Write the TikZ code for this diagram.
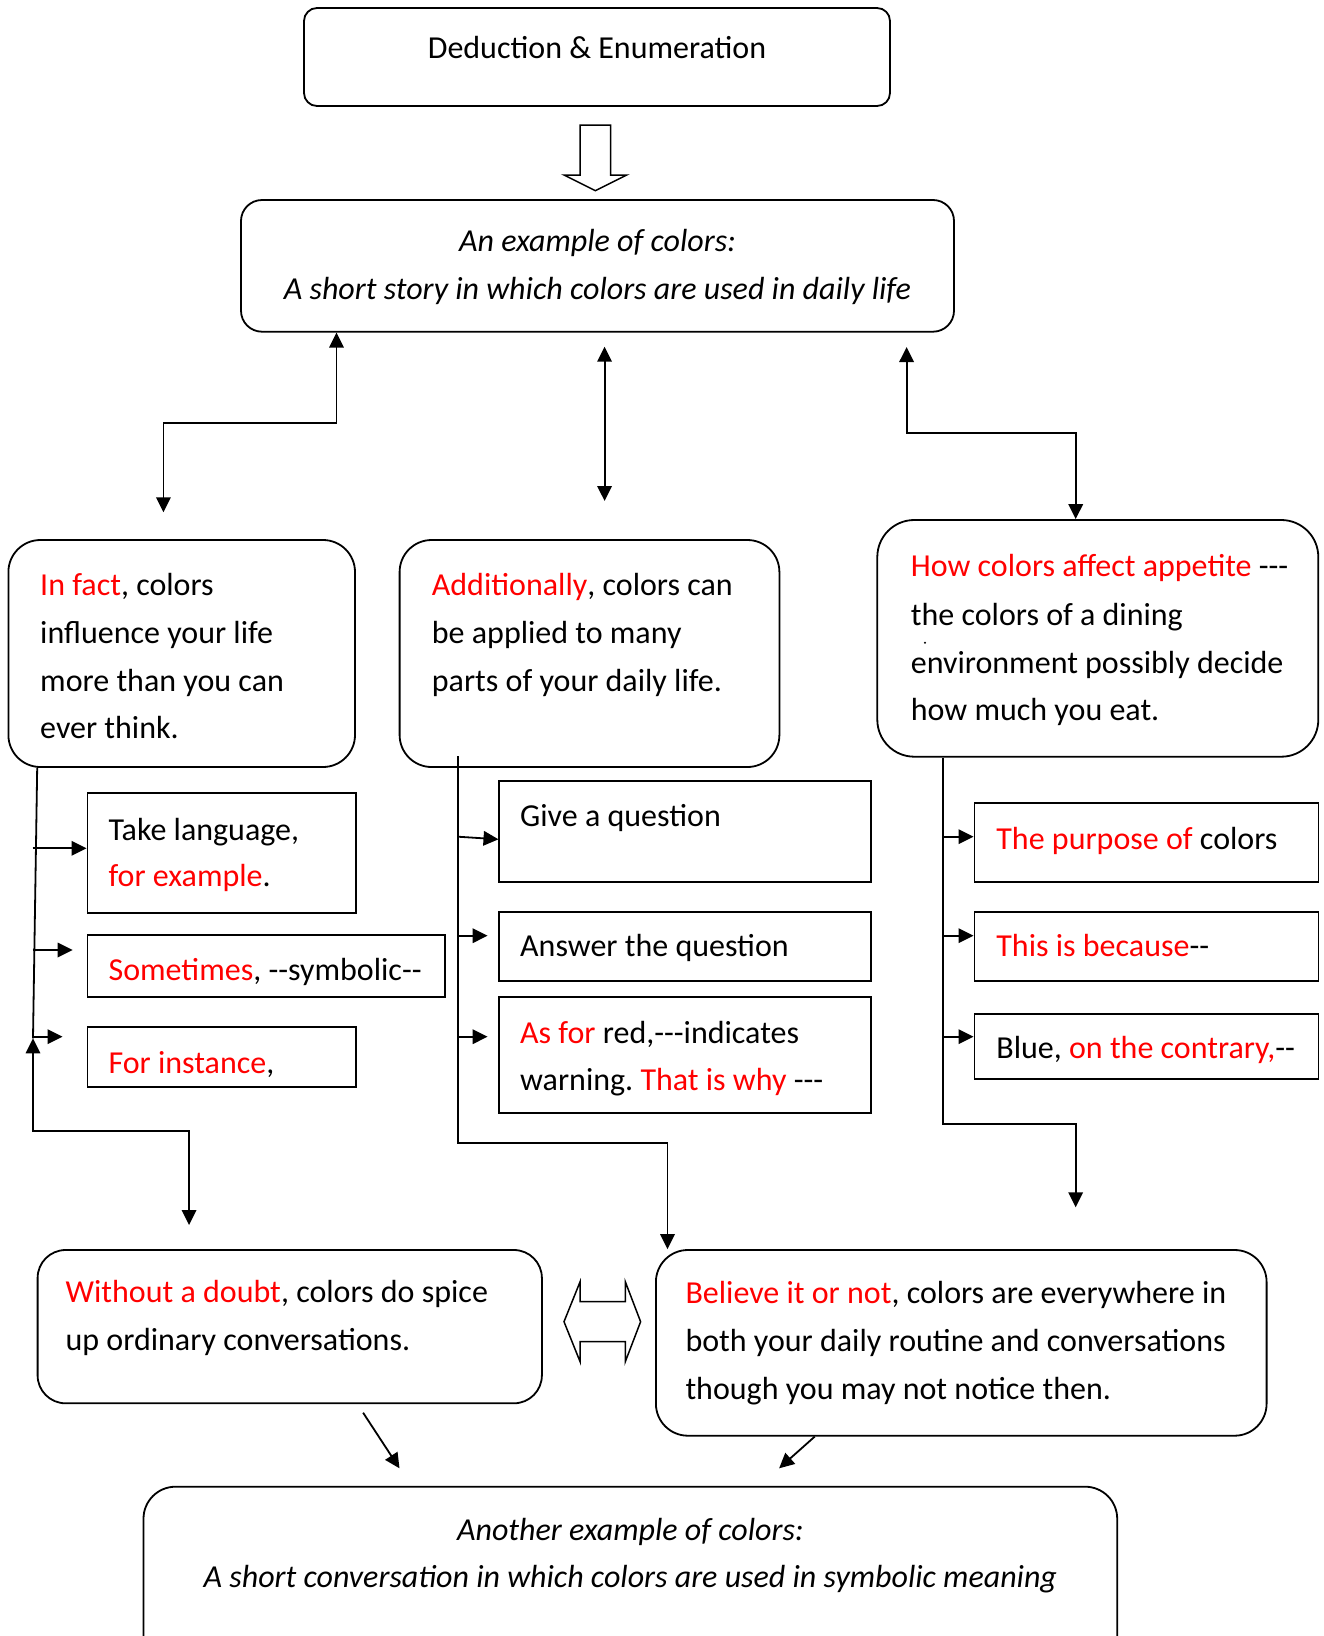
\documentclass[tikz,border=0pt]{standalone}
\usepackage{fontspec}
\setmainfont{Carlito}[Ligatures=TeXOff]
\usetikzlibrary{arrows.meta}
\definecolor{rd}{RGB}{255,0,0}
\frenchspacing
\begin{document}
\begin{tikzpicture}[x=1pt,y=-1pt,line width=1.8pt,
  txt/.style={inner sep=0pt,anchor=base west,font=\fontsize{32}{40}\selectfont},
  ctxt/.style={inner sep=0pt,anchor=base,font=\fontsize{32}{40}\selectfont},
  itxt/.style={inner sep=0pt,anchor=base,font=\fontsize{32}{40}\selectfont\itshape},
  rbox/.style={draw,rounded corners=#1,inner sep=0pt},
  sbox/.style={draw,inner sep=0pt},
  con/.style={-{Triangle[length=15pt,width=14.5pt]}},
  dcon/.style={{Triangle[length=15pt,width=14.5pt]}-{Triangle[length=15pt,width=14.5pt]}},
  hollow/.style={draw,line width=1.5pt,line join=miter,fill=white},
]
\useasboundingbox (0,0) rectangle (1324,1636);
\clip (0,0) rectangle (1324,1636);

% ---------- boxes ----------
\node[rbox=13pt,minimum width=586pt,minimum height=98pt] (top) at (597,57) {};
\node[rbox=21pt,minimum width=713pt,minimum height=131.7pt] (box2) at (597.5,265.85) {};
\node[rbox=32pt,minimum width=346.6pt,minimum height=227pt] (infact) at (181.7,653.5) {};
\node[rbox=32pt,minimum width=379.8pt,minimum height=227pt] (addl) at (589.5,653.5) {};
\node[rbox=37pt,minimum width=441pt,minimum height=236.7pt] (how) at (1097.8,638.35) {};
\node[sbox,minimum width=268.5pt,minimum height=119.4pt] (take) at (221.65,853) {};
\node[sbox,minimum width=357.2pt,minimum height=61.7pt] (sometimes) at (266,965.85) {};
\node[sbox,minimum width=268.5pt,minimum height=60pt] (forinst) at (221.65,1056.7) {};
\node[sbox,minimum width=372pt,minimum height=101.3pt] (giveq) at (685,831.65) {};
\node[sbox,minimum width=372pt,minimum height=68.4pt] (answer) at (685,946.5) {};
\node[sbox,minimum width=372pt,minimum height=116pt] (asfor) at (685,1054.7) {};
\node[sbox,minimum width=344.1pt,minimum height=79pt] (purpose) at (1146.45,842.8) {};
\node[sbox,minimum width=344.1pt,minimum height=68.4pt] (because) at (1146.45,946.5) {};
\node[sbox,minimum width=344.1pt,minimum height=65pt] (blue) at (1146.45,1046.5) {};
\node[rbox=28pt,minimum width=504.3pt,minimum height=153.3pt] (without) at (289.75,1326.65) {};
\node[rbox=32pt,minimum width=610.7pt,minimum height=185.7pt] (believe) at (961.25,1342.85) {};
\node[rbox=32pt,minimum width=973.7pt,minimum height=193.3pt] (bottom) at (630.35,1583.35) {};

% ---------- texts ----------
\node[ctxt] (t-top) at (597,58) {Deduction \& Enumeration};
\node[itxt] (t-b2a) at (597.5,251) {An example of colors:};
\node[itxt] (t-b2b) at (597.5,299) {A short story in which colors are used in daily life};

\node[txt] (t-if1) at (39.3,595.5) {\textcolor{rd}{In fact}, colors};
\node[txt] (t-if2) at (39.3,643.3) {influence your life};
\node[txt] (t-if3) at (39.3,691) {more than you can};
\node[txt] (t-if4) at (39.3,738.7) {ever think.};

\node[txt] (t-ad1) at (431,595.5) {\textcolor{rd}{Additionally}, colors can};
\node[txt] (t-ad2) at (431,643.3) {be applied to many};
\node[txt] (t-ad3) at (431,691) {parts of your daily life.};

\node[txt] (t-hw1) at (910,576.7) {\textcolor{rd}{How colors affect appetite} ---};
\node[txt] (t-hw2) at (910,625) {the colors of a dining};
\node[txt] (t-hw3) at (910,673.3) {environment possibly decide};
\node[txt] (t-hw4) at (910,720.7) {how much you eat.};
\fill (925,642.7) circle (1.1pt);

\node[txt] (t-tk1) at (107.7,840) {Take language,};
\node[txt] (t-tk2) at (107.7,886.7) {\textcolor{rd}{for example}.};
\node[txt] (t-st) at (107.7,980) {\textcolor{rd}{Sometimes}, --symbolic--};
\node[txt] (t-fi) at (107.7,1073.3) {\textcolor{rd}{For instance},};

\node[txt] (t-gq) at (519.3,826.7) {Give a question};
\node[txt] (t-aq) at (519.3,956.7) {Answer the question};
\node[txt] (t-af1) at (519.3,1043.3) {\textcolor{rd}{As for} red,---indicates};
\node[txt] (t-af2) at (519.3,1090.7) {warning. \textcolor{rd}{That is why} ---};

\node[txt] (t-pp) at (995.5,849.3) {\textcolor{rd}{The purpose of} colors};
\node[txt] (t-bc) at (995.5,956.7) {\textcolor{rd}{This is because}--};
\node[txt] (t-bl) at (995.5,1058.3) {Blue, \textcolor{rd}{on the contrary,}--};

\node[txt] (t-wd1) at (64.7,1302.5) {\textcolor{rd}{Without a doubt}, colors do spice};
\node[txt] (t-wd2) at (64.7,1350.5) {up ordinary conversations.};

\node[txt] (t-bv1) at (684.6,1303.5) {\textcolor{rd}{Believe it or not}, colors are everywhere in};
\node[txt] (t-bv2) at (684.6,1351.5) {both your daily routine and conversations};
\node[txt] (t-bv3) at (684.6,1399.5) {though you may not notice then.};

\node[itxt] (t-bt1) at (630.35,1540) {Another example of colors:};
\node[itxt] (t-bt2) at (630.35,1587) {A short conversation in which colors are used in symbolic meaning};

% ---------- hollow arrows ----------
\path[hollow] (580,125) -- (610.7,125) -- (610.7,175) -- (626.7,175) -- (595.35,190.7)
  -- (564,175) -- (580,175) -- cycle;
\path[hollow] (564,1321.7) -- (580.1,1281.7) -- (580.1,1301.7) -- (625.3,1301.7)
  -- (625.3,1281.7) -- (640.6,1321.7) -- (625.3,1361.7) -- (625.3,1341.7)
  -- (580.1,1341.7) -- (580.1,1361.7) -- cycle;

% ---------- coordinates ----------
\coordinate (k1) at (336.5,0);
\coordinate (c1) at (163.4,512.3);
\coordinate (m1) at (604.6,346.7);
\coordinate (m2) at (604.6,501);
\coordinate (r1) at (906.6,347);
\coordinate (r2) at (1075.7,0);

\coordinate (l0) at (37.2,0);
\coordinate (l1) at (33,1038.3);
\coordinate (l2) at (189.1,1225);
\coordinate (lb1) at (32.5,848.3);
\coordinate (lb2) at (32.5,950);
\coordinate (lt2) at (72.6,950);
\coordinate (lb3) at (33.8,1036.7);
\coordinate (lt3) at (62.5,1036.7);

\coordinate (mt0) at (458,756);
\coordinate (mt1) at (667.5,0);
\coordinate (mb1) at (458,836.7);
\coordinate (mtp1) at (498.5,839.3);
\coordinate (mb2) at (458,935.7);
\coordinate (mtp2) at (487.6,935.7);
\coordinate (mb3) at (458,1036.7);
\coordinate (mtp3) at (487.6,1036.7);

\coordinate (rt0) at (942.8,0);
\coordinate (rt1) at (1075.7,1207.3);
\coordinate (rb1) at (942.8,836.7);
\coordinate (rb2) at (942.8,935.7);
\coordinate (rb3) at (942.8,1036.7);

\coordinate (w1) at (363.1,1412.7);
\coordinate (w2) at (399.5,1468.3);
\coordinate (b1) at (814.7,0);
\coordinate (b2) at (779.1,1468.3);

% ---------- connectors ----------
\draw[dcon] (box2.south -| k1) -- ++(0,90.7) -| (c1);
\draw[dcon] (m1) -- (m2);
\draw[dcon] (r1) -- ++(0,85.7) -| (how.north -| r2);

\draw (infact.south -| l0) -- (l1);
\draw[dcon] (l1) -- ++(0,92.7) -| (l2);
\draw[con] (lb1) -- (take.west |- lb1);
\draw[con] (lb2) -- (lt2);
\draw[con] (lb3) -- (lt3);

\draw[con] (mt0) -- ++(0,387.3) -| (believe.north -| mt1);
\draw[con] (mb1) -- (mtp1);
\draw[con] (mb2) -- (mtp2);
\draw[con] (mb3) -- (mtp3);

\draw[con] (how.south -| rt0) -- ++(0,366) -| (rt1);
\draw[con] (rb1) -- (purpose.west |- rb1);
\draw[con] (rb2) -- (because.west |- rb2);
\draw[con] (rb3) -- (blue.west |- rb3);

\draw[con] (w1) -- (w2);
\draw[con] (believe.south -| b1) -- (b2);
\end{tikzpicture}
\end{document}
